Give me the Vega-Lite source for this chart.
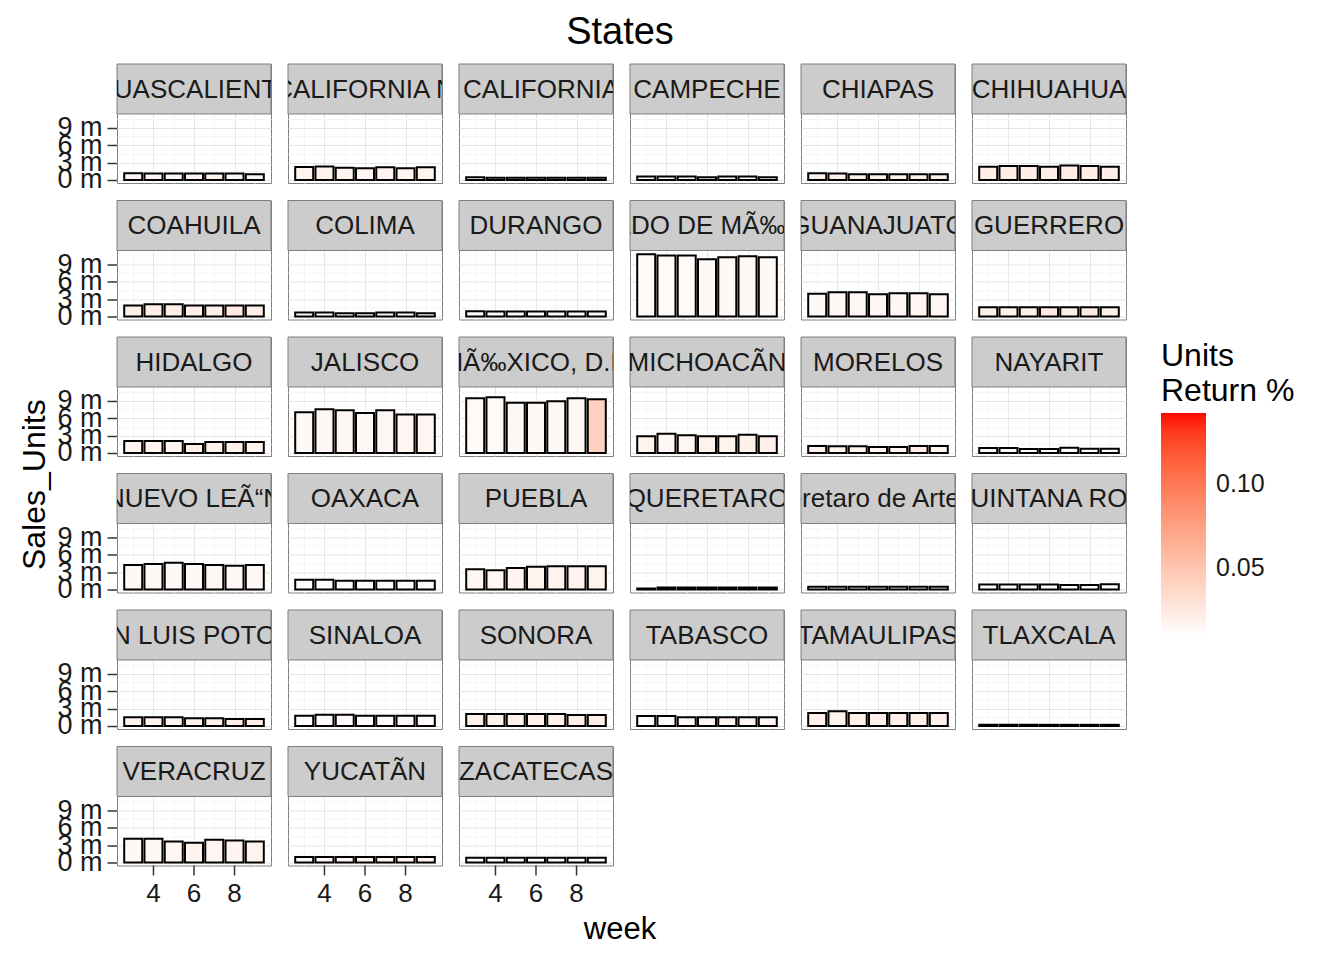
{
  "$schema": "https://vega.github.io/schema/vega-lite/v6.json",
  "padding": {"left": 18, "top": 14, "right": 0, "bottom": 0},
  "background": "white",
  "title": {"text": "States", "fontSize": 38, "font": "Liberation Sans", "fontWeight": "normal", "color": "#000000", "anchor": "middle", "offset": 10, "dx": -37},
  "config": {
    "font": "Liberation Sans",
    "view": {"stroke": "#7f7f7f", "strokeWidth": 1},
    "concat": {"spacing": 0},
    "axis": {"labelOverlap": false},
    "header": {"labels": false, "title": null, "labelPadding": 0, "labelExpr": "''", "labelColor": "transparent", "labelFontSize": 1},
    "headerFacet": {"labels": false, "title": null, "labelPadding": 0, "labelExpr": "''", "labelColor": "transparent", "labelFontSize": 1}
  },
  "vconcat": [{
    "title": {"text": "week", "orient": "bottom", "fontSize": 31, "font": "Liberation Sans", "fontWeight": "normal", "color": "#000000", "anchor": "middle", "offset": 8, "dx": 47},
    "hconcat": [{
      "title": {"text": "Sales_Units", "orient": "left", "fontSize": 32, "font": "Liberation Sans", "fontWeight": "normal", "color": "#000000", "anchor": "middle", "offset": 5},
      "data": {"values": [
{"State":"AGUASCALIENTES","week":3,"Sales_Units":1150000,"Return":0.015},{"State":"AGUASCALIENTES","week":4,"Sales_Units":1100000,"Return":0.015},{"State":"AGUASCALIENTES","week":5,"Sales_Units":1100000,"Return":0.015},{"State":"AGUASCALIENTES","week":6,"Sales_Units":1100000,"Return":0.016},{"State":"AGUASCALIENTES","week":7,"Sales_Units":1100000,"Return":0.016},{"State":"AGUASCALIENTES","week":8,"Sales_Units":1100000,"Return":0.015},{"State":"AGUASCALIENTES","week":9,"Sales_Units":1000000,"Return":0.015},
{"State":"BAJA CALIFORNIA NORTE","week":3,"Sales_Units":2250000,"Return":0.018},{"State":"BAJA CALIFORNIA NORTE","week":4,"Sales_Units":2300000,"Return":0.018},{"State":"BAJA CALIFORNIA NORTE","week":5,"Sales_Units":2100000,"Return":0.017},{"State":"BAJA CALIFORNIA NORTE","week":6,"Sales_Units":2000000,"Return":0.017},{"State":"BAJA CALIFORNIA NORTE","week":7,"Sales_Units":2200000,"Return":0.017},{"State":"BAJA CALIFORNIA NORTE","week":8,"Sales_Units":2000000,"Return":0.017},{"State":"BAJA CALIFORNIA NORTE","week":9,"Sales_Units":2200000,"Return":0.018},
{"State":"BAJA CALIFORNIA SUR","week":3,"Sales_Units":450000,"Return":0.012},{"State":"BAJA CALIFORNIA SUR","week":4,"Sales_Units":400000,"Return":0.012},{"State":"BAJA CALIFORNIA SUR","week":5,"Sales_Units":400000,"Return":0.012},{"State":"BAJA CALIFORNIA SUR","week":6,"Sales_Units":400000,"Return":0.012},{"State":"BAJA CALIFORNIA SUR","week":7,"Sales_Units":400000,"Return":0.012},{"State":"BAJA CALIFORNIA SUR","week":8,"Sales_Units":400000,"Return":0.012},{"State":"BAJA CALIFORNIA SUR","week":9,"Sales_Units":400000,"Return":0.012},
{"State":"CAMPECHE","week":3,"Sales_Units":600000,"Return":0.016},{"State":"CAMPECHE","week":4,"Sales_Units":600000,"Return":0.016},{"State":"CAMPECHE","week":5,"Sales_Units":600000,"Return":0.016},{"State":"CAMPECHE","week":6,"Sales_Units":450000,"Return":0.016},{"State":"CAMPECHE","week":7,"Sales_Units":600000,"Return":0.016},{"State":"CAMPECHE","week":8,"Sales_Units":600000,"Return":0.016},{"State":"CAMPECHE","week":9,"Sales_Units":450000,"Return":0.016},
{"State":"CHIAPAS","week":3,"Sales_Units":1150000,"Return":0.02},{"State":"CHIAPAS","week":4,"Sales_Units":1100000,"Return":0.02},{"State":"CHIAPAS","week":5,"Sales_Units":1000000,"Return":0.019},{"State":"CHIAPAS","week":6,"Sales_Units":1000000,"Return":0.019},{"State":"CHIAPAS","week":7,"Sales_Units":1000000,"Return":0.019},{"State":"CHIAPAS","week":8,"Sales_Units":1000000,"Return":0.019},{"State":"CHIAPAS","week":9,"Sales_Units":1000000,"Return":0.02},
{"State":"CHIHUAHUA","week":3,"Sales_Units":2280000,"Return":0.022},{"State":"CHIHUAHUA","week":4,"Sales_Units":2400000,"Return":0.023},{"State":"CHIHUAHUA","week":5,"Sales_Units":2400000,"Return":0.022},{"State":"CHIHUAHUA","week":6,"Sales_Units":2280000,"Return":0.022},{"State":"CHIHUAHUA","week":7,"Sales_Units":2500000,"Return":0.022},{"State":"CHIHUAHUA","week":8,"Sales_Units":2400000,"Return":0.022},{"State":"CHIHUAHUA","week":9,"Sales_Units":2280000,"Return":0.022},
{"State":"COAHUILA","week":3,"Sales_Units":1900000,"Return":0.022},{"State":"COAHUILA","week":4,"Sales_Units":2100000,"Return":0.022},{"State":"COAHUILA","week":5,"Sales_Units":2100000,"Return":0.022},{"State":"COAHUILA","week":6,"Sales_Units":1900000,"Return":0.021},{"State":"COAHUILA","week":7,"Sales_Units":1900000,"Return":0.021},{"State":"COAHUILA","week":8,"Sales_Units":1900000,"Return":0.025},{"State":"COAHUILA","week":9,"Sales_Units":1900000,"Return":0.022},
{"State":"COLIMA","week":3,"Sales_Units":700000,"Return":0.012},{"State":"COLIMA","week":4,"Sales_Units":700000,"Return":0.012},{"State":"COLIMA","week":5,"Sales_Units":550000,"Return":0.012},{"State":"COLIMA","week":6,"Sales_Units":550000,"Return":0.012},{"State":"COLIMA","week":7,"Sales_Units":700000,"Return":0.012},{"State":"COLIMA","week":8,"Sales_Units":700000,"Return":0.012},{"State":"COLIMA","week":9,"Sales_Units":550000,"Return":0.012},
{"State":"DURANGO","week":3,"Sales_Units":880000,"Return":0.012},{"State":"DURANGO","week":4,"Sales_Units":860000,"Return":0.012},{"State":"DURANGO","week":5,"Sales_Units":860000,"Return":0.012},{"State":"DURANGO","week":6,"Sales_Units":860000,"Return":0.012},{"State":"DURANGO","week":7,"Sales_Units":860000,"Return":0.012},{"State":"DURANGO","week":8,"Sales_Units":860000,"Return":0.012},{"State":"DURANGO","week":9,"Sales_Units":860000,"Return":0.012},
{"State":"ESTADO DE MÃ‰XICO","week":3,"Sales_Units":10700000,"Return":0.013},{"State":"ESTADO DE MÃ‰XICO","week":4,"Sales_Units":10500000,"Return":0.013},{"State":"ESTADO DE MÃ‰XICO","week":5,"Sales_Units":10500000,"Return":0.013},{"State":"ESTADO DE MÃ‰XICO","week":6,"Sales_Units":9860000,"Return":0.014},{"State":"ESTADO DE MÃ‰XICO","week":7,"Sales_Units":10200000,"Return":0.014},{"State":"ESTADO DE MÃ‰XICO","week":8,"Sales_Units":10380000,"Return":0.014},{"State":"ESTADO DE MÃ‰XICO","week":9,"Sales_Units":10200000,"Return":0.014},
{"State":"GUANAJUATO","week":3,"Sales_Units":3900000,"Return":0.014},{"State":"GUANAJUATO","week":4,"Sales_Units":4190000,"Return":0.015},{"State":"GUANAJUATO","week":5,"Sales_Units":4190000,"Return":0.015},{"State":"GUANAJUATO","week":6,"Sales_Units":3840000,"Return":0.016},{"State":"GUANAJUATO","week":7,"Sales_Units":4000000,"Return":0.016},{"State":"GUANAJUATO","week":8,"Sales_Units":4000000,"Return":0.016},{"State":"GUANAJUATO","week":9,"Sales_Units":3840000,"Return":0.016},
{"State":"GUERRERO","week":3,"Sales_Units":1600000,"Return":0.02},{"State":"GUERRERO","week":4,"Sales_Units":1600000,"Return":0.02},{"State":"GUERRERO","week":5,"Sales_Units":1600000,"Return":0.02},{"State":"GUERRERO","week":6,"Sales_Units":1600000,"Return":0.024},{"State":"GUERRERO","week":7,"Sales_Units":1600000,"Return":0.022},{"State":"GUERRERO","week":8,"Sales_Units":1600000,"Return":0.024},{"State":"GUERRERO","week":9,"Sales_Units":1600000,"Return":0.02},
{"State":"HIDALGO","week":3,"Sales_Units":2050000,"Return":0.017},{"State":"HIDALGO","week":4,"Sales_Units":2050000,"Return":0.017},{"State":"HIDALGO","week":5,"Sales_Units":2050000,"Return":0.017},{"State":"HIDALGO","week":6,"Sales_Units":1550000,"Return":0.022},{"State":"HIDALGO","week":7,"Sales_Units":1900000,"Return":0.02},{"State":"HIDALGO","week":8,"Sales_Units":1900000,"Return":0.021},{"State":"HIDALGO","week":9,"Sales_Units":1900000,"Return":0.018},
{"State":"JALISCO","week":3,"Sales_Units":7030000,"Return":0.014},{"State":"JALISCO","week":4,"Sales_Units":7540000,"Return":0.015},{"State":"JALISCO","week":5,"Sales_Units":7370000,"Return":0.015},{"State":"JALISCO","week":6,"Sales_Units":6860000,"Return":0.015},{"State":"JALISCO","week":7,"Sales_Units":7370000,"Return":0.015},{"State":"JALISCO","week":8,"Sales_Units":6630000,"Return":0.016},{"State":"JALISCO","week":9,"Sales_Units":6630000,"Return":0.016},
{"State":"MÃ‰XICO, D.F.","week":3,"Sales_Units":9430000,"Return":0.013},{"State":"MÃ‰XICO, D.F.","week":4,"Sales_Units":9600000,"Return":0.013},{"State":"MÃ‰XICO, D.F.","week":5,"Sales_Units":8630000,"Return":0.014},{"State":"MÃ‰XICO, D.F.","week":6,"Sales_Units":8630000,"Return":0.014},{"State":"MÃ‰XICO, D.F.","week":7,"Sales_Units":8910000,"Return":0.014},{"State":"MÃ‰XICO, D.F.","week":8,"Sales_Units":9430000,"Return":0.015},{"State":"MÃ‰XICO, D.F.","week":9,"Sales_Units":9260000,"Return":0.042},
{"State":"MICHOACÃN","week":3,"Sales_Units":2860000,"Return":0.018},{"State":"MICHOACÃN","week":4,"Sales_Units":3310000,"Return":0.015},{"State":"MICHOACÃN","week":5,"Sales_Units":3030000,"Return":0.016},{"State":"MICHOACÃN","week":6,"Sales_Units":2860000,"Return":0.018},{"State":"MICHOACÃN","week":7,"Sales_Units":2860000,"Return":0.018},{"State":"MICHOACÃN","week":8,"Sales_Units":3140000,"Return":0.02},{"State":"MICHOACÃN","week":9,"Sales_Units":2860000,"Return":0.021},
{"State":"MORELOS","week":3,"Sales_Units":1200000,"Return":0.02},{"State":"MORELOS","week":4,"Sales_Units":1140000,"Return":0.017},{"State":"MORELOS","week":5,"Sales_Units":1140000,"Return":0.017},{"State":"MORELOS","week":6,"Sales_Units":1030000,"Return":0.017},{"State":"MORELOS","week":7,"Sales_Units":1030000,"Return":0.017},{"State":"MORELOS","week":8,"Sales_Units":1200000,"Return":0.022},{"State":"MORELOS","week":9,"Sales_Units":1200000,"Return":0.017},
{"State":"NAYARIT","week":3,"Sales_Units":860000,"Return":0.014},{"State":"NAYARIT","week":4,"Sales_Units":860000,"Return":0.014},{"State":"NAYARIT","week":5,"Sales_Units":690000,"Return":0.014},{"State":"NAYARIT","week":6,"Sales_Units":690000,"Return":0.014},{"State":"NAYARIT","week":7,"Sales_Units":910000,"Return":0.014},{"State":"NAYARIT","week":8,"Sales_Units":740000,"Return":0.014},{"State":"NAYARIT","week":9,"Sales_Units":740000,"Return":0.014},
{"State":"NUEVO LEÃ“N","week":3,"Sales_Units":4200000,"Return":0.014},{"State":"NUEVO LEÃ“N","week":4,"Sales_Units":4370000,"Return":0.014},{"State":"NUEVO LEÃ“N","week":5,"Sales_Units":4600000,"Return":0.014},{"State":"NUEVO LEÃ“N","week":6,"Sales_Units":4370000,"Return":0.014},{"State":"NUEVO LEÃ“N","week":7,"Sales_Units":4200000,"Return":0.015},{"State":"NUEVO LEÃ“N","week":8,"Sales_Units":4080000,"Return":0.015},{"State":"NUEVO LEÃ“N","week":9,"Sales_Units":4200000,"Return":0.015},
{"State":"OAXACA","week":3,"Sales_Units":1670000,"Return":0.012},{"State":"OAXACA","week":4,"Sales_Units":1670000,"Return":0.012},{"State":"OAXACA","week":5,"Sales_Units":1500000,"Return":0.012},{"State":"OAXACA","week":6,"Sales_Units":1500000,"Return":0.012},{"State":"OAXACA","week":7,"Sales_Units":1500000,"Return":0.012},{"State":"OAXACA","week":8,"Sales_Units":1500000,"Return":0.012},{"State":"OAXACA","week":9,"Sales_Units":1500000,"Return":0.012},
{"State":"PUEBLA","week":3,"Sales_Units":3500000,"Return":0.016},{"State":"PUEBLA","week":4,"Sales_Units":3330000,"Return":0.016},{"State":"PUEBLA","week":5,"Sales_Units":3680000,"Return":0.017},{"State":"PUEBLA","week":6,"Sales_Units":3900000,"Return":0.018},{"State":"PUEBLA","week":7,"Sales_Units":4000000,"Return":0.018},{"State":"PUEBLA","week":8,"Sales_Units":4000000,"Return":0.018},{"State":"PUEBLA","week":9,"Sales_Units":4000000,"Return":0.018},
{"State":"QUERETARO","week":3,"Sales_Units":170000,"Return":0.142},{"State":"QUERETARO","week":4,"Sales_Units":340000,"Return":0.02},{"State":"QUERETARO","week":5,"Sales_Units":340000,"Return":0.02},{"State":"QUERETARO","week":6,"Sales_Units":340000,"Return":0.02},{"State":"QUERETARO","week":7,"Sales_Units":340000,"Return":0.02},{"State":"QUERETARO","week":8,"Sales_Units":340000,"Return":0.02},{"State":"QUERETARO","week":9,"Sales_Units":340000,"Return":0.02},
{"State":"Queretaro de Arteaga","week":3,"Sales_Units":450000,"Return":0.012},{"State":"Queretaro de Arteaga","week":4,"Sales_Units":450000,"Return":0.012},{"State":"Queretaro de Arteaga","week":5,"Sales_Units":450000,"Return":0.012},{"State":"Queretaro de Arteaga","week":6,"Sales_Units":450000,"Return":0.012},{"State":"Queretaro de Arteaga","week":7,"Sales_Units":450000,"Return":0.012},{"State":"Queretaro de Arteaga","week":8,"Sales_Units":450000,"Return":0.012},{"State":"Queretaro de Arteaga","week":9,"Sales_Units":450000,"Return":0.012},
{"State":"QUINTANA ROO","week":3,"Sales_Units":850000,"Return":0.0095},{"State":"QUINTANA ROO","week":4,"Sales_Units":850000,"Return":0.01},{"State":"QUINTANA ROO","week":5,"Sales_Units":850000,"Return":0.01},{"State":"QUINTANA ROO","week":6,"Sales_Units":850000,"Return":0.01},{"State":"QUINTANA ROO","week":7,"Sales_Units":750000,"Return":0.01},{"State":"QUINTANA ROO","week":8,"Sales_Units":750000,"Return":0.01},{"State":"QUINTANA ROO","week":9,"Sales_Units":900000,"Return":0.01},
{"State":"SAN LUIS POTOSÃ","week":3,"Sales_Units":1490000,"Return":0.018},{"State":"SAN LUIS POTOSÃ","week":4,"Sales_Units":1490000,"Return":0.017},{"State":"SAN LUIS POTOSÃ","week":5,"Sales_Units":1490000,"Return":0.017},{"State":"SAN LUIS POTOSÃ","week":6,"Sales_Units":1320000,"Return":0.02},{"State":"SAN LUIS POTOSÃ","week":7,"Sales_Units":1320000,"Return":0.02},{"State":"SAN LUIS POTOSÃ","week":8,"Sales_Units":1200000,"Return":0.022},{"State":"SAN LUIS POTOSÃ","week":9,"Sales_Units":1200000,"Return":0.022},
{"State":"SINALOA","week":3,"Sales_Units":1780000,"Return":0.013},{"State":"SINALOA","week":4,"Sales_Units":1950000,"Return":0.013},{"State":"SINALOA","week":5,"Sales_Units":1950000,"Return":0.013},{"State":"SINALOA","week":6,"Sales_Units":1780000,"Return":0.013},{"State":"SINALOA","week":7,"Sales_Units":1780000,"Return":0.013},{"State":"SINALOA","week":8,"Sales_Units":1780000,"Return":0.013},{"State":"SINALOA","week":9,"Sales_Units":1780000,"Return":0.013},
{"State":"SONORA","week":3,"Sales_Units":2060000,"Return":0.02},{"State":"SONORA","week":4,"Sales_Units":2060000,"Return":0.02},{"State":"SONORA","week":5,"Sales_Units":2060000,"Return":0.02},{"State":"SONORA","week":6,"Sales_Units":2060000,"Return":0.02},{"State":"SONORA","week":7,"Sales_Units":2060000,"Return":0.02},{"State":"SONORA","week":8,"Sales_Units":1890000,"Return":0.022},{"State":"SONORA","week":9,"Sales_Units":1890000,"Return":0.022},
{"State":"TABASCO","week":3,"Sales_Units":1700000,"Return":0.012},{"State":"TABASCO","week":4,"Sales_Units":1700000,"Return":0.012},{"State":"TABASCO","week":5,"Sales_Units":1500000,"Return":0.015},{"State":"TABASCO","week":6,"Sales_Units":1500000,"Return":0.016},{"State":"TABASCO","week":7,"Sales_Units":1500000,"Return":0.016},{"State":"TABASCO","week":8,"Sales_Units":1500000,"Return":0.016},{"State":"TABASCO","week":9,"Sales_Units":1500000,"Return":0.016},
{"State":"TAMAULIPAS","week":3,"Sales_Units":2240000,"Return":0.02},{"State":"TAMAULIPAS","week":4,"Sales_Units":2520000,"Return":0.018},{"State":"TAMAULIPAS","week":5,"Sales_Units":2240000,"Return":0.02},{"State":"TAMAULIPAS","week":6,"Sales_Units":2240000,"Return":0.02},{"State":"TAMAULIPAS","week":7,"Sales_Units":2240000,"Return":0.02},{"State":"TAMAULIPAS","week":8,"Sales_Units":2240000,"Return":0.02},{"State":"TAMAULIPAS","week":9,"Sales_Units":2240000,"Return":0.02},
{"State":"TLAXCALA","week":3,"Sales_Units":200000,"Return":0.015},{"State":"TLAXCALA","week":4,"Sales_Units":200000,"Return":0.015},{"State":"TLAXCALA","week":5,"Sales_Units":200000,"Return":0.015},{"State":"TLAXCALA","week":6,"Sales_Units":200000,"Return":0.015},{"State":"TLAXCALA","week":7,"Sales_Units":200000,"Return":0.015},{"State":"TLAXCALA","week":8,"Sales_Units":200000,"Return":0.015},{"State":"TLAXCALA","week":9,"Sales_Units":200000,"Return":0.015},
{"State":"VERACRUZ","week":3,"Sales_Units":4100000,"Return":0.014},{"State":"VERACRUZ","week":4,"Sales_Units":4100000,"Return":0.014},{"State":"VERACRUZ","week":5,"Sales_Units":3600000,"Return":0.016},{"State":"VERACRUZ","week":6,"Sales_Units":3380000,"Return":0.018},{"State":"VERACRUZ","week":7,"Sales_Units":3900000,"Return":0.016},{"State":"VERACRUZ","week":8,"Sales_Units":3780000,"Return":0.017},{"State":"VERACRUZ","week":9,"Sales_Units":3600000,"Return":0.018},
{"State":"YUCATÃN","week":3,"Sales_Units":950000,"Return":0.015},{"State":"YUCATÃN","week":4,"Sales_Units":950000,"Return":0.015},{"State":"YUCATÃN","week":5,"Sales_Units":950000,"Return":0.015},{"State":"YUCATÃN","week":6,"Sales_Units":950000,"Return":0.018},{"State":"YUCATÃN","week":7,"Sales_Units":950000,"Return":0.016},{"State":"YUCATÃN","week":8,"Sales_Units":950000,"Return":0.016},{"State":"YUCATÃN","week":9,"Sales_Units":950000,"Return":0.016},
{"State":"ZACATECAS","week":3,"Sales_Units":830000,"Return":0.013},{"State":"ZACATECAS","week":4,"Sales_Units":830000,"Return":0.013},{"State":"ZACATECAS","week":5,"Sales_Units":830000,"Return":0.013},{"State":"ZACATECAS","week":6,"Sales_Units":830000,"Return":0.013},{"State":"ZACATECAS","week":7,"Sales_Units":830000,"Return":0.013},{"State":"ZACATECAS","week":8,"Sales_Units":830000,"Return":0.013},{"State":"ZACATECAS","week":9,"Sales_Units":830000,"Return":0.013}
      ]},
      "facet": {
        "field": "State", "type": "nominal",
        "sort": ["AGUASCALIENTES","BAJA CALIFORNIA NORTE","BAJA CALIFORNIA SUR","CAMPECHE","CHIAPAS","CHIHUAHUA","COAHUILA","COLIMA","DURANGO","ESTADO DE MÃ‰XICO","GUANAJUATO","GUERRERO","HIDALGO","JALISCO","MÃ‰XICO, D.F.","MICHOACÃN","MORELOS","NAYARIT","NUEVO LEÃ“N","OAXACA","PUEBLA","QUERETARO","Queretaro de Arteaga","QUINTANA ROO","SAN LUIS POTOSÃ","SINALOA","SONORA","TABASCO","TAMAULIPAS","TLAXCALA","VERACRUZ","YUCATÃN","ZACATECAS"],
        "header": {"labels": false, "title": null, "labelPadding": 0, "labelExpr": "''", "labelColor": "transparent", "labelFontSize": 1}
      },
      "columns": 6,
      "bounds": "flush",
      "spacing": {"row": 17.5, "column": 17},
      "spec": {
        "width": 154,
        "height": 119,
        "layer": [
          {
            "mark": {"type": "bar", "size": 18, "stroke": "#000000", "strokeWidth": 2},
            "encoding": {
              "x": {"field": "week", "type": "quantitative", "scale": {"domain": [2.2, 9.8], "nice": false, "zero": false, "padding": 0},
                    "axis": {"title": null, "values": [3,4,5,6,7,8,9], "tickCount": 50, "labels": false, "ticks": false, "domain": false,
                             "gridColor": {"condition": {"test": "datum.value % 2 === 1", "value": "#f5f5f5"}, "value": "#e5e5e5"}}},
              "y": {"field": "Sales_Units", "type": "quantitative", "scale": {"domain": [-520000, 19960000], "nice": false, "zero": false, "padding": 0},
                    "axis": {"title": null, "values": [0, 1500000, 3000000, 4500000, 6000000, 7500000, 9000000, 10500000], "tickCount": 50,
                             "labelExpr": "datum.value % 3000000 === 0 ? (datum.value / 1000000) + ' m' : ''",
                             "labelOverlap": false, "labelFontSize": 27, "labelColor": "#1a1a1a", "labelFont": "Liberation Sans",
                             "domain": false, "tickSize": 10, "tickWidth": 1.5, "labelPadding": 5, "labelBound": false, "labelFlush": false,
                             "tickColor": {"condition": {"test": "datum.value % 3000000 !== 0", "value": "transparent"}, "value": "#333333"},
                             "gridColor": {"condition": {"test": "datum.value % 3000000 !== 0", "value": "#f5f5f5"}, "value": "#e5e5e5"}}},
              "color": {"field": "Return", "type": "quantitative",
                        "scale": {"domain": [0.0095, 0.142], "range": ["#ffffff", "#ff0000"], "interpolate": "lab"},
                        "legend": {"title": ["Units", "Return %"], "values": [0.05, 0.1], "format": ".2f",
                                   "gradientLength": 223, "gradientThickness": 45, "labelFontSize": 25, "titleFontSize": 32,
                                   "titleFontWeight": "normal", "titleColor": "#000000", "labelColor": "#1a1a1a",
                                   "titleFont": "Liberation Sans", "labelFont": "Liberation Sans", "titleLineHeight": 35,
                                   "orient": "none", "legendX": 1044, "legendY": 277, "gradientStrokeWidth": 0, "labelOffset": 10}}
            }
          },
          {
            "transform": [{"filter": "datum.week == 3"}],
            "mark": {"type": "rect", "fill": "#cccccc", "stroke": "#7f7f7f", "strokeWidth": 1},
            "encoding": {
              "x": {"datum": 2.2, "type": "quantitative"},
              "x2": {"datum": 9.8},
              "y": {"datum": 11360000, "type": "quantitative"},
              "y2": {"datum": 19960000}
            }
          },
          {
            "transform": [{"filter": "datum.week == 3"}],
            "mark": {"type": "text", "fontSize": 26, "font": "Liberation Sans", "color": "#1a1a1a", "align": "center", "baseline": "middle", "clip": true},
            "encoding": {
              "x": {"datum": 6, "type": "quantitative"},
              "y": {"datum": 15500000, "type": "quantitative"},
              "text": {"field": "State"}
            }
          },
          {
            "transform": [{"filter": {"field": "State", "oneOf": ["VERACRUZ", "YUCATÃN", "ZACATECAS"]}}, {"filter": {"field": "week", "oneOf": [4, 6, 8]}}],
            "mark": {"type": "rule", "color": "#333333", "strokeWidth": 1.5},
            "encoding": {
              "x": {"field": "week", "type": "quantitative"},
              "y": {"datum": -520000, "type": "quantitative"},
              "y2": {"datum": -2240000}
            }
          },
          {
            "transform": [{"filter": {"field": "State", "oneOf": ["VERACRUZ", "YUCATÃN", "ZACATECAS"]}}, {"filter": {"field": "week", "oneOf": [4, 6, 8]}}],
            "mark": {"type": "text", "fontSize": 26, "font": "Liberation Sans", "color": "#1a1a1a", "align": "center", "baseline": "middle"},
            "encoding": {
              "x": {"field": "week", "type": "quantitative"},
              "y": {"datum": -5400000, "type": "quantitative"},
              "text": {"field": "week", "type": "quantitative"}
            }
          }
        ]
      }
    }]
  }]
}
